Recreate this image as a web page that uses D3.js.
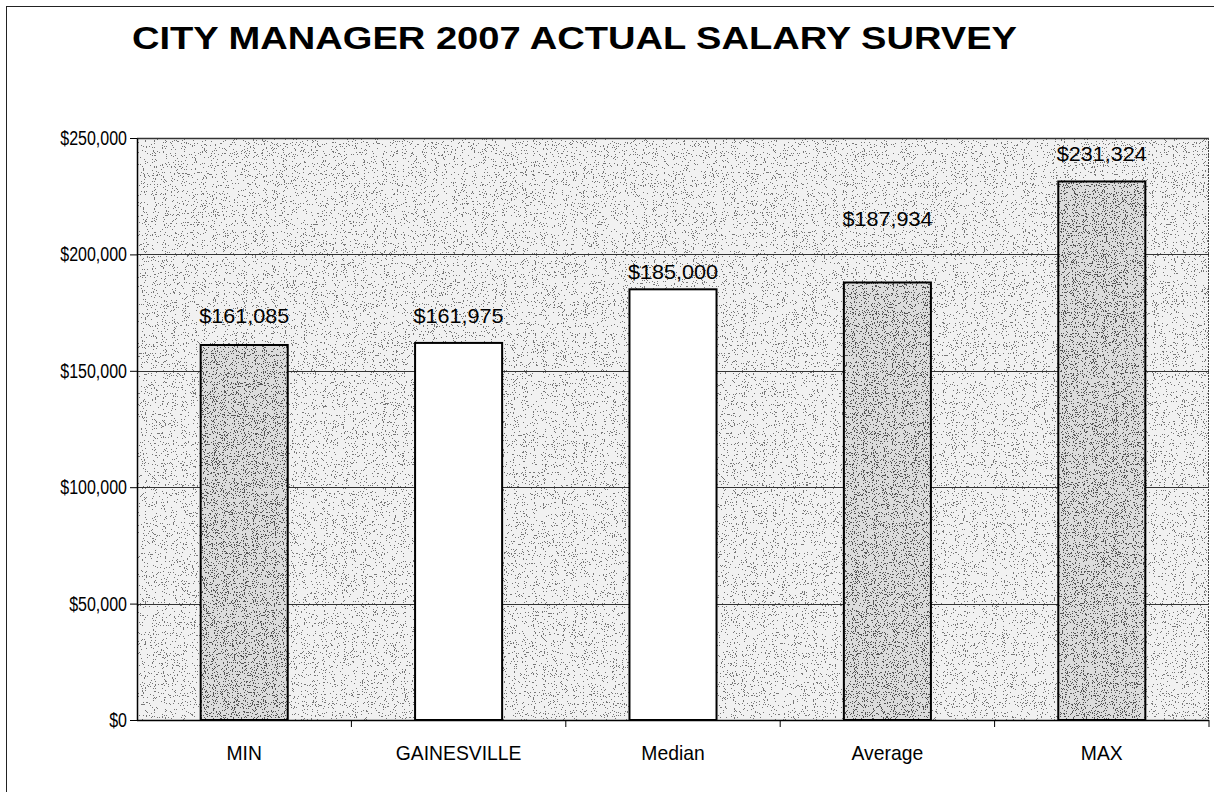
<!DOCTYPE html>
<html>
<head>
<meta charset="utf-8">
<script src="https://cdn.jsdelivr.net/npm/d3@7/dist/d3.min.js"></script>
<style>
  html, body { margin: 0; padding: 0; background: #fff; }
  svg { display: block; font-family: "Liberation Sans", Arial, sans-serif; }
</style>
</head>
<body>
<svg id="chart" width="1214" height="792"></svg>
<script>
// ---- data ----
const categories = ["MIN", "GAINESVILLE", "Median", "Average", "MAX"];
const salaries = [161085, 161975, 185000, 187934, 231324];
const valueLabels = ["$161,085", "$161,975", "$185,000", "$187,934", "$231,324"];
const stippled = [true, false, false, true, true];
const yTicks = [0, 50000, 100000, 150000, 200000, 250000];
const yTickLabels = ["$0", "$50,000", "$100,000", "$150,000", "$200,000", "$250,000"];
const labelLift = [22, 20, 10, 56, 20];   // label baseline gap above bar top (px)
const titleText = "CITY MANAGER 2007 ACTUAL SALARY SURVEY";

// ---- layout ----
const W = 1214, H = 792;
const plot = { left: 137, right: 1209, top: 138, bottom: 720 };

const svg = d3.select("#chart");
const defs = svg.append("defs");

function speckle(id, cut, color, seed) {
  const f = defs.append("filter").attr("id", id)
    .attr("filterUnits", "userSpaceOnUse")
    .attr("x", 0).attr("y", 0).attr("width", W).attr("height", H);
  f.append("feTurbulence").attr("type", "fractalNoise")
    .attr("baseFrequency", "0.9").attr("numOctaves", 2).attr("seed", seed)
    .attr("result", "noise");
  f.append("feColorMatrix").attr("in", "noise").attr("type", "matrix")
    .attr("values", `0 0 0 0 0  0 0 0 0 0  0 0 0 0 0  8 0 0 0 ${-8 * cut}`)
    .attr("result", "a");
  const ct = f.append("feComponentTransfer").attr("in", "a").attr("result", "dots");
  ct.append("feFuncA").attr("type", "discrete").attr("tableValues", "0 1");
  f.append("feFlood").attr("flood-color", color).attr("result", "col");
  f.append("feComposite").attr("in", "col").attr("in2", "dots").attr("operator", "in").attr("result", "cd");
  f.append("feComposite").attr("in", "cd").attr("in2", "SourceGraphic").attr("operator", "in");
}
speckle("bgSpk", 0.60, "#777777", 4);
speckle("barSpk", 0.55, "#555555", 9);

// outer frame
svg.append("rect").attr("x", 6.5).attr("y", 6.5).attr("width", W + 20).attr("height", H + 20)
  .attr("fill", "none").attr("stroke", "#222").attr("stroke-width", 1);

// title
svg.append("text").attr("x", 132).attr("y", 49)
  .attr("font-size", 31).attr("font-weight", "bold").attr("fill", "#000")
  .attr("textLength", 885).attr("lengthAdjust", "spacingAndGlyphs")
  .text(titleText);

// scales
const x = d3.scaleBand().domain(categories).range([plot.left, plot.right])
  .paddingInner(0.594).paddingOuter(0.297);
const y = d3.scaleLinear().domain([0, 250000]).range([plot.bottom, plot.top]);

// plot background
const g = svg.append("g");
g.append("rect").attr("x", plot.left).attr("y", plot.top)
  .attr("width", plot.right - plot.left).attr("height", plot.bottom - plot.top)
  .attr("fill", "#f1f1f1");
g.append("rect").attr("x", plot.left).attr("y", plot.top)
  .attr("width", plot.right - plot.left).attr("height", plot.bottom - plot.top)
  .attr("fill", "#000").attr("filter", "url(#bgSpk)");

// gridlines
g.selectAll("line.grid").data(yTicks.filter(d => d > 0 && d < 250000)).join("line")
  .attr("class", "grid")
  .attr("x1", plot.left).attr("x2", plot.right)
  .attr("y1", d => Math.round(y(d)) + 0.5).attr("y2", d => Math.round(y(d)) + 0.5)
  .attr("stroke", "#333").attr("stroke-width", 1);

// plot border (top & right)
g.append("line").attr("x1", plot.left).attr("x2", plot.right)
  .attr("y1", plot.top + 0.5).attr("y2", plot.top + 0.5).attr("stroke", "#333").attr("stroke-width", 1.5);
g.append("line").attr("x1", plot.right - 0.5).attr("x2", plot.right - 0.5)
  .attr("y1", plot.top).attr("y2", plot.bottom).attr("stroke", "#444").attr("stroke-width", 1).attr("stroke-dasharray", "2,1");

// bars
const data = categories.map((c, i) => ({ c, v: salaries[i], lab: valueLabels[i], st: stippled[i], lift: labelLift[i] }));
const bars = g.selectAll("g.bar").data(data).join("g").attr("class", "bar");
bars.append("rect")
  .attr("x", d => x(d.c)).attr("y", d => y(d.v))
  .attr("width", x.bandwidth()).attr("height", d => y(0) - y(d.v))
  .attr("fill", d => d.st ? "#dcdcdc" : "#ffffff");
bars.filter(d => d.st).append("rect")
  .attr("x", d => x(d.c)).attr("y", d => y(d.v))
  .attr("width", x.bandwidth()).attr("height", d => y(0) - y(d.v))
  .attr("fill", "#000").attr("filter", "url(#barSpk)");
bars.append("rect")
  .attr("x", d => x(d.c)).attr("y", d => y(d.v))
  .attr("width", x.bandwidth()).attr("height", d => y(0) - y(d.v))
  .attr("fill", "none").attr("stroke", "#000").attr("stroke-width", 2);

// value labels
bars.append("text")
  .attr("x", d => x(d.c) + x.bandwidth() / 2)
  .attr("y", d => y(d.v) - d.lift)
  .attr("text-anchor", "middle").attr("font-size", 21).attr("fill", "#000")
  .attr("textLength", 90).attr("lengthAdjust", "spacingAndGlyphs")
  .text(d => d.lab);

// axes
const yAxis = d3.axisLeft(y).tickValues(yTicks).tickFormat((d, i) => yTickLabels[i])
  .tickSize(7).tickPadding(3).tickSizeOuter(0);
const ya = svg.append("g").attr("transform", `translate(${plot.left},0)`).call(yAxis);
ya.attr("font-size", 20).attr("font-family", "'Liberation Sans', Arial, sans-serif");
ya.select(".domain").attr("stroke", "#000").attr("stroke-width", 1.5);
ya.selectAll(".tick line").attr("stroke", "#000");
ya.selectAll(".tick text").attr("font-size", 20).attr("fill", "#000")
  .each(function () {
    const t = d3.select(this);
    const n = this.getComputedTextLength();
    t.attr("textLength", n * 0.8).attr("lengthAdjust", "spacingAndGlyphs");
  });

const xa = svg.append("g").attr("transform", `translate(0,${plot.bottom})`);
xa.append("line").attr("x1", plot.left).attr("x2", plot.right).attr("y1", 0.5).attr("y2", 0.5)
  .attr("stroke", "#000").attr("stroke-width", 1.5);
const bounds = categories.map(c => x(c) - x.step() * x.paddingInner() / 2).concat([plot.right]);
xa.selectAll("line.xt").data(bounds.slice(1)).join("line").attr("class", "xt")
  .attr("x1", d => d).attr("x2", d => d).attr("y1", 0).attr("y2", 7)
  .attr("stroke", "#000");
xa.selectAll("text.cat").data(categories).join("text").attr("class", "cat")
  .attr("x", d => x(d) + x.bandwidth() / 2).attr("y", 40)
  .attr("text-anchor", "middle").attr("font-size", 21).attr("fill", "#000")
  .each(function (d) {
    const t = d3.select(this).text(d);
    const n = this.getComputedTextLength();
    t.attr("textLength", n * 0.92).attr("lengthAdjust", "spacingAndGlyphs");
  });
</script>
</body>
</html>
